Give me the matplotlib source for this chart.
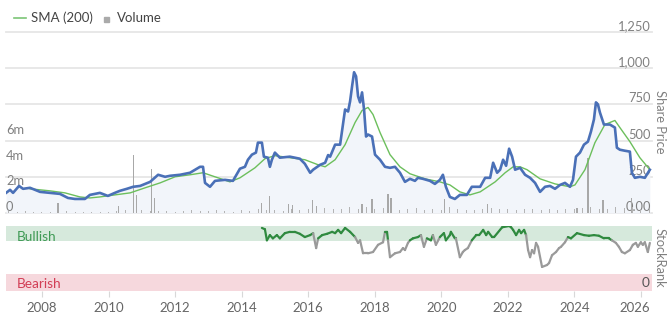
import numpy as np
import matplotlib
matplotlib.use('Agg')
import matplotlib.pyplot as plt
from matplotlib.collections import LineCollection
from matplotlib.lines import Line2D
from matplotlib.patches import Rectangle
from matplotlib.transforms import blended_transform_factory, ScaledTranslation

plt.rcParams['font.family'] = ['Lato', 'DejaVu Sans']

# ---------------- data (decimal years) ----------------
price_dates = [2006.92, 2007.04, 2007.13, 2007.31, 2007.43, 2007.64, 2007.94, 2008.24, 2008.54,
               2008.78, 2008.99, 2009.29, 2009.44, 2009.74, 2009.98, 2010.19, 2010.34, 2010.55,
               2010.74, 2010.95, 2011.25, 2011.49, 2011.70, 2011.85, 2012.15, 2012.45, 2012.75,
               2012.84, 2012.90, 2013.05, 2013.20, 2013.50, 2013.74, 2013.95, 2014.10, 2014.19,
               2014.31, 2014.43, 2014.49, 2014.61, 2014.67, 2014.79, 2014.85, 2014.91, 2015.00,
               2015.15, 2015.45, 2015.75, 2015.90, 2016.06, 2016.15, 2016.36, 2016.51, 2016.60,
               2016.66, 2016.81, 2016.96, 2017.11, 2017.20, 2017.26, 2017.32, 2017.38, 2017.44,
               2017.50, 2017.56, 2017.62, 2017.68, 2017.74, 2017.80, 2017.92, 2018.01, 2018.16,
               2018.31, 2018.46, 2018.61, 2018.76, 2018.91, 2019.06, 2019.21, 2019.30, 2019.45,
               2019.66, 2019.81, 2019.96, 2020.05, 2020.14, 2020.26, 2020.41, 2020.56, 2020.77,
               2020.92, 2021.17, 2021.32, 2021.47, 2021.56, 2021.68, 2021.77, 2021.86, 2021.95,
               2022.04, 2022.13, 2022.22, 2022.37, 2022.52, 2022.67, 2022.82, 2022.97, 2023.12,
               2023.27, 2023.42, 2023.57, 2023.72, 2023.87, 2023.96, 2024.05, 2024.17, 2024.29,
               2024.41, 2024.50, 2024.59, 2024.65, 2024.71, 2024.77, 2024.89, 2025.07, 2025.22,
               2025.28, 2025.37, 2025.52, 2025.67, 2025.73, 2025.82, 2025.97, 2026.12, 2026.27]
price_values = [139, 160, 139, 187, 167, 174, 146, 139, 132,
                104, 97, 97, 125, 139, 118, 139, 153, 167,
                181, 187, 215, 264, 250, 257, 264, 278, 319,
                319, 208, 181, 222, 229, 222, 306, 319, 368,
                403, 417, 486, 486, 389, 382, 319, 368, 417,
                382, 389, 375, 340, 278, 299, 333, 347, 400,
                389, 472, 472, 715, 701, 771, 875, 972, 944,
                806, 764, 833, 715, 528, 542, 528, 403, 368,
                319, 312, 319, 278, 215, 236, 222, 243, 236,
                222, 201, 229, 264, 181, 111, 97, 125, 125,
                181, 181, 243, 243, 347, 278, 299, 368, 326,
                444, 389, 299, 312, 264, 243, 208, 146, 181,
                187, 167, 194, 208, 181, 229, 389, 417, 472,
                493, 562, 646, 764, 750, 694, 611, 611, 590,
                451, 437, 430, 424, 278, 243, 250, 243, 299]

sma_dates = [2007.64, 2008.24, 2008.69, 2009.14, 2009.44, 2009.74, 2010.19, 2010.65, 2011.10,
             2011.55, 2012.00, 2012.45, 2012.84, 2013.20, 2013.65, 2013.95, 2014.40, 2014.70,
             2015.00, 2015.45, 2015.90, 2016.30, 2016.51, 2016.81, 2017.11, 2017.41, 2017.62,
             2017.80, 2017.95, 2018.16, 2018.46, 2018.76, 2019.06, 2019.51, 2019.96, 2020.26,
             2020.56, 2020.86, 2021.17, 2021.62, 2021.92, 2022.16, 2022.37, 2022.58, 2022.97,
             2023.42, 2023.87, 2024.02, 2024.32, 2024.62, 2024.92, 2025.22, 2025.37, 2025.67,
             2025.97, 2026.27]
sma_values = [167, 153, 139, 111, 104, 111, 125, 139, 174,
              208, 250, 264, 278, 250, 215, 243, 312, 375,
              396, 382, 368, 333, 319, 368, 472, 625, 708,
              729, 680, 556, 403, 319, 271, 236, 215, 194,
              146, 125, 146, 215, 278, 319, 319, 299, 236,
              201, 181, 194, 299, 486, 611, 639, 590, 493,
              382, 299]

spike_dates = [2008.48, 2010.31, 2010.74, 2010.83, 2011.28, 2011.37, 2014.61, 2014.85, 2015.42,
               2015.54, 2016.12, 2016.24, 2017.62, 2017.92, 2018.40, 2018.49, 2020.11, 2021.38,
               2024.08, 2024.41, 2024.86, 2025.73]
spike_volumes_m = [0.8, 0.55, 4.5, 1.4, 3.4, 1.2, 0.8, 1.3, 0.7,
                   0.6, 1.0, 0.55, 0.7, 1.1, 1.5, 1.2, 1.1, 0.7,
                   0.4, 4.3, 1.0, 1.2]

base_volume_m = [0.15, 0.10, 0.12, 0.08, 0.10, 0.06, 0.09, 0.12, 0.05, 0.07, 0.10, 0.06,
                 0.08, 0.12, 0.20, 0.15, 0.22, 0.18, 0.12, 0.15, 0.10, 0.14, 0.20, 0.12,
                 0.18, 0.25, 0.15, 0.10, 0.20, 0.16, 0.30, 0.22, 0.25, 0.18, 0.30, 0.20,
                 0.28, 0.35, 0.40, 0.30, 0.35, 0.50, 0.30, 0.45, 0.30, 0.40, 0.35, 0.25,
                 0.30, 0.40, 0.20, 0.35, 0.25, 0.45, 0.30, 0.20, 0.25, 0.30, 0.40, 0.35,
                 0.30, 0.25, 0.35, 0.30, 0.20, 0.30, 0.25, 0.35, 0.30, 0.40, 0.50, 0.35,
                 0.30, 0.45, 0.40, 0.50, 0.35, 0.30]
base_volume_dates = 2007.0 + 0.25 * np.arange(len(base_volume_m))

rank_dates = [2014.61, 2014.70, 2014.76, 2014.85, 2014.94, 2015.06, 2015.15, 2015.30, 2015.45,
              2015.60, 2015.75, 2015.90, 2016.06, 2016.15, 2016.24, 2016.30, 2016.42, 2016.57,
              2016.72, 2016.81, 2016.90, 2016.99, 2017.11, 2017.26, 2017.41, 2017.50, 2017.56,
              2017.65, 2017.80, 2017.95, 2018.10, 2018.25, 2018.31, 2018.37, 2018.40, 2018.46,
              2018.61, 2018.76, 2018.85, 2018.91, 2019.00, 2019.06, 2019.15, 2019.30, 2019.39,
              2019.48, 2019.57, 2019.69, 2019.75, 2019.84, 2019.96, 2020.08, 2020.14, 2020.26,
              2020.29, 2020.41, 2020.44, 2020.56, 2020.65, 2020.71, 2020.80, 2020.92, 2021.05,
              2021.14, 2021.26, 2021.35, 2021.41, 2021.53, 2021.59, 2021.83, 2022.04, 2022.10,
              2022.16, 2022.25, 2022.34, 2022.40, 2022.49, 2022.55, 2022.61, 2022.67, 2022.73,
              2022.79, 2022.85, 2022.91, 2023.03, 2023.18, 2023.24, 2023.33, 2023.45, 2023.54,
              2023.60, 2023.72, 2023.81, 2023.90, 2024.08, 2024.29, 2024.44, 2024.59, 2024.74,
              2024.89, 2025.04, 2025.13, 2025.25, 2025.34, 2025.43, 2025.52, 2025.67, 2025.76,
              2025.85, 2025.91, 2026.00, 2026.06, 2026.12, 2026.21, 2026.27]
rank_values = [97, 95, 78, 86, 81, 86, 81, 89, 91,
               91, 88, 83, 86, 89, 66, 81, 86, 88,
               91, 89, 94, 89, 97, 91, 83, 74, 78,
               58, 58, 60, 71, 75, 91, 91, 78, 52,
               58, 60, 66, 63, 74, 78, 81, 83, 86,
               68, 81, 78, 86, 71, 83, 89, 78, 86,
               91, 81, 81, 52, 60, 63, 66, 78, 86,
               86, 94, 86, 91, 83, 83, 98, 100, 98,
               94, 86, 94, 89, 94, 86, 63, 52, 63,
               58, 74, 68, 37, 40, 43, 55, 60, 66,
               68, 75, 83, 81, 89, 86, 85, 86, 85,
               81, 81, 78, 74, 68, 60, 58, 63, 71,
               74, 68, 75, 71, 75, 60, 74]

year_ticks = list(range(2008, 2027, 2))
price_ticks = [0, 250, 500, 750, 1000, 1250]
price_tick_labels = ['0.00', '250', '500', '750', '1,000', '1,250']
volume_ticks_m = [0, 2, 4, 6]
volume_tick_labels = ['0', '2m', '4m', '6m']

# ---------------- layout ----------------
W, H = 668, 323
fig = plt.figure(figsize=(W / 100, H / 100), dpi=100)
fig.patch.set_facecolor('white')

def rect(x0, y_top, x1, y_bot):
    return [x0 / W, 1 - y_bot / H, (x1 - x0) / W, (y_bot - y_top) / H]

XMIN, XMAX = 2006.918, 2026.335
main_rect = rect(6, 32, 652, 213)

ax_p = fig.add_axes(main_rect)
ax_v = fig.add_axes(main_rect, sharex=ax_p)
ax_l = fig.add_axes(main_rect, sharex=ax_p)
for a in (ax_v, ax_l):
    a.patch.set_visible(False)
for a in (ax_p, ax_v, ax_l):
    for s in a.spines.values():
        s.set_visible(False)
    a.tick_params(left=False, right=False, bottom=False, top=False,
                  labelleft=False, labelright=False, labelbottom=False)
    a.set_xlim(XMIN, XMAX)

ax_p.set_ylim(0, 1250)
ax_l.set_ylim(0, 1250)
ax_v.set_ylim(0, 14.1)

# gridlines
for v in price_ticks:
    ax_p.axhline(v, color='#e6e6e6', lw=1.3, zorder=0, clip_on=False)

# area fill
ax_p.fill_between(price_dates, price_values, 0, color='#f2f5fa', lw=0, zorder=1)

# volume bars
ax_v.bar(base_volume_dates, base_volume_m, width=0.03, color='#b4b4b4', lw=0)
ax_v.bar(spike_dates, spike_volumes_m, width=0.035, color='#a8a8a8', lw=0)

# price + sma
ax_l.plot(sma_dates, sma_values, color='#6cbf5c', lw=1.0, zorder=2)
ax_l.plot(price_dates, price_values, color='#4a70b7', lw=1.9, zorder=3,
          solid_joinstyle='round')

# price labels (right)
tr_p = blended_transform_factory(ax_p.transAxes, ax_p.transData)
for v, lab in zip(price_ticks, price_tick_labels):
    ax_p.text(0.998, v, lab, transform=tr_p, ha='right', va='bottom',
              fontsize=9.3, color='#808080')

# volume labels (left)
tr_v = blended_transform_factory(ax_v.transAxes, ax_v.transData)
for v, lab in zip(volume_ticks_m, volume_tick_labels):
    ax_v.text(0.0, v, lab, transform=tr_v, ha='left', va='bottom',
              fontsize=9.3, color='#808080')

fig.text(660 / W, 1 - 122 / H, 'Share Price', rotation=270, ha='center', va='center',
         fontsize=9.3, color='#808080')

# legend
fig.add_artist(Line2D([14 / W, 26 / W], [1 - 18 / H, 1 - 18 / H], color='#7cc576', lw=1.2))
fig.text(31 / W, 1 - 18 / H, 'SMA (200)', ha='left', va='center', fontsize=9.5, color='#444444')
fig.add_artist(Rectangle((104 / W, 1 - 22 / H), 5 / W, 5 / H, color='#aaaaaa',
                         transform=fig.transFigure))
fig.text(117 / W, 1 - 18 / H, 'Volume', ha='left', va='center', fontsize=9.5, color='#444444')

# ---------------- stock rank panel ----------------
ax_r = fig.add_axes(rect(6, 226, 652, 291))
ax_r.set_xlim(XMIN, XMAX)
ax_r.set_ylim(0, 100)
for s in ax_r.spines.values():
    s.set_visible(False)
ax_r.axhspan(77, 100, color='#d6e9dc', lw=0, zorder=0)
ax_r.axhspan(0, 26, color='#f6d8dd', lw=0, zorder=0)

pts = np.column_stack([rank_dates, rank_values])
segs = np.stack([pts[:-1], pts[1:]], axis=1)
rv = np.array(rank_values)
cols = ['#2f8a3f' if min(rv[i], rv[i + 1]) >= 76 else '#9a9a9a' for i in range(len(rv) - 1)]
lc = LineCollection(segs, colors=cols, linewidths=1.6, zorder=2, capstyle='round',
                    joinstyle='round')
ax_r.add_collection(lc)

tr_r = blended_transform_factory(fig.transFigure, ax_r.transData)
ax_r.text(17 / W, 83, 'Bullish', transform=tr_r, ha='left', va='center',
          fontsize=9.8, color='#3f9a55')
ax_r.text(17 / W, 11, 'Bearish', transform=tr_r, ha='left', va='center',
          fontsize=9.8, color='#d23e55')
ax_r.text(0.996, 12, '0', transform=blended_transform_factory(ax_r.transAxes, ax_r.transData),
          ha='right', va='center', fontsize=9.8, color='#555555')
fig.text(660 / W, 1 - 258 / H, 'StockRank', rotation=270, ha='center', va='center',
         fontsize=9.3, color='#808080')

ax_r.set_yticks([])
ax_r.set_xticks(year_ticks)
ax_r.set_xticklabels([str(y) for y in year_ticks])
ax_r.tick_params(axis='x', direction='out', length=4.5, width=0.8, color='#d8d8d8',
                 labelsize=9.5, labelcolor='#666666', pad=3.5)
last = ax_r.get_xticklabels()[-1]
last.set_transform(last.get_transform() + ScaledTranslation(-6 / 100, 0, fig.dpi_scale_trans))

fig.savefig('out.png', dpi=100, facecolor='white')
